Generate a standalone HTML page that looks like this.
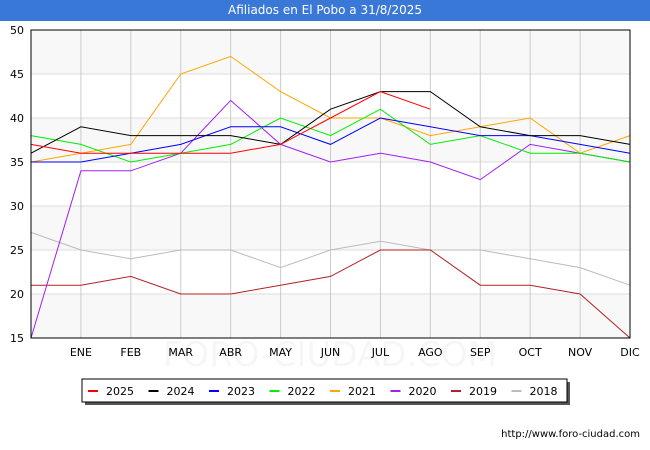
<!DOCTYPE html>
<html><head><meta charset="utf-8"><style>
body{margin:0;width:650px;height:450px;background:#fff;font-family:"DejaVu Sans","Liberation Sans",sans-serif;overflow:hidden}
#title{position:absolute;left:0;top:0;width:650px;height:21px;background:#3a78d7;color:#fff;font-size:12px;text-align:center;line-height:21px}
</style></head><body>
<div id="title">Afiliados en El Pobo a 31/8/2025</div>
<svg id="c" width="650" height="450" style="position:absolute;left:0;top:0"></svg>
<script>
const months=["","ENE","FEB","MAR","ABR","MAY","JUN","JUL","AGO","SEP","OCT","NOV","DIC"];
const yTicks=[15,20,25,30,35,40,45,50];
const seriesNames=["2025","2024","2023","2022","2021","2020","2019","2018"];
const colors=["#ff0000","#000000","#0000ff","#00ee00","#ffa500","#a020f0","#b22222","#bbbbbb"];
const s2025=[37,36,36,36,36,37,40,43,41];
const s2024=[36,39,38,38,38,37,41,43,43,39,38,38,37];
const s2023=[35,35,36,37,39,39,37,40,39,38,38,37,36];
const s2022=[38,37,35,36,37,40,38,41,37,38,36,36,35];
const s2021=[35,36,37,45,47,43,40,40,38,39,40,36,38];
const s2020=[15,34,34,36,42,37,35,36,35,33,37,36,35];
const s2019=[21,21,22,20,20,21,22,25,25,21,21,20,15];
const s2018=[27,25,24,25,25,23,25,26,25,25,24,23,21];
const all=[s2025,s2024,s2023,s2022,s2021,s2020,s2019,s2018];
const svg=document.getElementById('c');const NS="http://www.w3.org/2000/svg";
const L=31,R=630,T=30,B=338,ymin=15,ymax=50;
const X=i=>L+i*(R-L)/12;const Y=v=>B-(v-ymin)*(B-T)/(ymax-ymin);
function mk(t,a,p){const e=document.createElementNS(NS,t);for(const k in a)e.setAttribute(k,a[k]);(p||svg).appendChild(e);return e;}
for(let i=0;i<yTicks.length-1;i++){if(i%2==0){const r=mk('rect',{x:L,y:Y(yTicks[i+1]),width:R-L,height:Y(yTicks[i])-Y(yTicks[i+1]),fill:'#f8f8f8'});}}
yTicks.forEach(v=>{const l=mk('line',{x1:L,x2:R,y1:Y(v),y2:Y(v),stroke:'#dddddd'});
const t=mk('text',{x:L-7,y:Y(v)+4,'text-anchor':'end','font-size':11,fill:'#000'});t.textContent=v;});
months.forEach((m,i)=>{if(i==0)return;const l=mk('line',{x1:X(i),x2:X(i),y1:T,y2:B,stroke:'#cccccc'});
const t=mk('text',{x:X(i),y:356,'text-anchor':'middle','font-size':11,fill:'#000'});t.textContent=m;});
for(let s=all.length-1;s>=0;s--){const p=mk('polyline',{points:all[s].map((v,i)=>X(i)+','+Y(v)).join(' '),fill:'none',stroke:colors[s],'stroke-width':1});}
const wm=mk('text',{x:330,y:366,'text-anchor':'middle','font-size':34,fill:'#000','fill-opacity':0.035});wm.textContent="FORO-CIUDAD.COM";
const fr=mk('rect',{x:L,y:T,width:R-L,height:B-T,fill:'none',stroke:'#000'});
const g=mk('g',{});
mk('rect',{x:85,y:382,width:485,height:23,fill:'#555'},g);
mk('rect',{x:82,y:379,width:485,height:23,fill:'#fff',stroke:'#000'},g);
seriesNames.forEach((n,i)=>{const x=88+i*60.5;const e=mk('g',{},g);
mk('line',{x1:x,x2:x+10,y1:391,y2:391,stroke:colors[i],'stroke-width':2},e);
const t=mk('text',{x:x+18,y:395,'font-size':11,fill:'#000'},e);t.textContent=n;});
const u=mk('text',{x:640,y:437,'text-anchor':'end','font-size':10,fill:'#000'});u.textContent="http://www.foro-ciudad.com";
</script>
</body></html>
